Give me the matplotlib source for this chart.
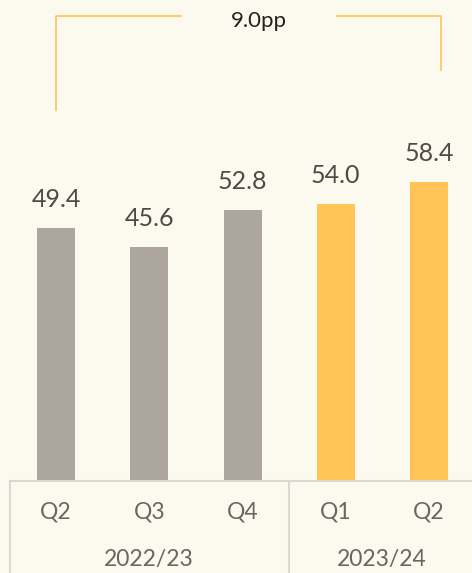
import matplotlib
matplotlib.use('Agg')
import matplotlib.pyplot as plt

quarters = ["Q2", "Q3", "Q4", "Q1", "Q2"]
years = ["2022/23", "2023/24"]
year_groups = [[0, 1, 2], [3, 4]]
values = [49.4, 45.6, 52.8, 54.0, 58.4]
bar_colors = ["#ADA69E", "#ADA69E", "#ADA69E", "#FFC455", "#FFC455"]
change_label = "9.0pp"

bg = "#FCF9EE"
text_color = "#4F4A45"
tick_color = "#6B6661"
line_color = "#DCD9D2"
bracket_color = "#FFC455"
font = "Lato"

W, H = 472, 573
fig = plt.figure(figsize=(W / 100, H / 100), dpi=100, facecolor=bg)

# pixel geometry
x0_px, step_px = 56, 93.25
base_px = 480
px_per_unit = 5.105

ax = fig.add_axes([0, 1 - base_px / H, 1, base_px / H])
ax.set_facecolor(bg)
ax.set_xlim(-x0_px / step_px, (W - x0_px) / step_px)
ax.set_ylim(0, base_px / px_per_unit)
ax.axis("off")

xs = list(range(len(values)))
ax.bar(xs, values, width=38 / step_px, color=bar_colors)
for x, v in zip(xs, values):
    ax.text(x, v + 17 / px_per_unit, f"{v:.1f}", ha="center", va="bottom",
            fontsize=18, color=text_color, family=font)

# bracket showing the change
top = (base_px - 16) / px_per_unit
ax.plot([0, 0, 1.35], [(base_px - 111) / px_per_unit, top, top],
        color=bracket_color, lw=1.2, solid_capstyle="butt", clip_on=False)
ax.plot([3.0, 4.13, 4.13], [top, top, (base_px - 71) / px_per_unit],
        color=bracket_color, lw=1.2, solid_capstyle="butt", clip_on=False)
ax.text(2.18, top - 1, change_label, ha="center", va="center", fontsize=16,
        color="#222222", family=font)

# category table below the bars
tab = fig.add_axes([0, 0, 1, 1 - base_px / H])
tab.set_xlim(ax.get_xlim())
tab.set_ylim(0, 1)
tab.axis("off")
left = (10 - x0_px) / step_px
div = (289 - x0_px) / step_px
right = (W + 5 - x0_px) / step_px
tab.plot([left, right], [0.99, 0.99], color=line_color, lw=1.5, clip_on=False)
tab.plot([left, left], [0, 0.99], color=line_color, lw=1.5)
tab.plot([div, div], [0, 0.99], color=line_color, lw=1.5)
for x, q in zip(xs, quarters):
    tab.text(x, 0.66, q, ha="center", va="center", fontsize=16.5,
             color=tick_color, family=font)
year_x = [(149 - x0_px) / step_px, (382 - x0_px) / step_px]
for yx, yr in zip(year_x, years):
    tab.text(yx, 0.15, yr, ha="center", va="center", fontsize=16.5,
             color=tick_color, family=font)

fig.savefig("out.png", dpi=100, facecolor=bg)
